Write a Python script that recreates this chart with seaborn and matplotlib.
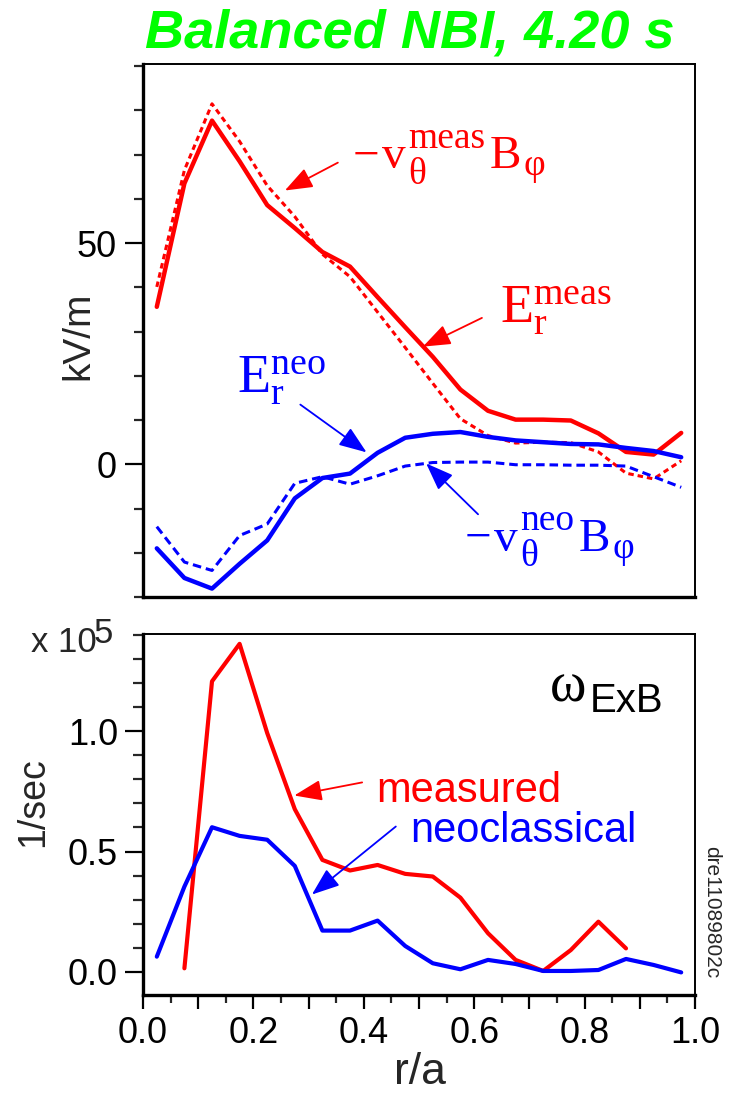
import matplotlib
matplotlib.use("Agg")
import matplotlib.pyplot as plt
import seaborn as sns
import numpy as np
import pandas as pd
from matplotlib.ticker import MultipleLocator, FuncFormatter

# ---------------- data ----------------
r_top = [0.025, 0.075, 0.125, 0.175, 0.225, 0.275, 0.325, 0.375, 0.425, 0.475,
         0.525, 0.575, 0.625, 0.675, 0.725, 0.775, 0.825, 0.875, 0.925, 0.975]
er_meas = [35.6, 63.5, 77.7, 68.5, 58.6, 53.4, 48.0, 44.7, 37.8, 31.0,
           24.3, 16.9, 12.1, 10.1, 10.1, 9.9, 7.0, 2.8, 2.2, 7.1]
vb_meas = [40.1, 66.5, 81.5, 73.0, 63.0, 56.0, 47.5, 42.4, 34.4, 26.4,
           18.3, 10.3, 6.5, 4.8, 5.0, 4.9, 2.8, -2.0, -3.3, 0.8]
er_neo = [-19.0, -25.7, -28.1, -22.5, -17.2, -7.7, -3.1, -2.1, 2.6, 6.0,
          6.9, 7.3, 6.2, 5.4, 5.0, 4.6, 4.5, 3.7, 3.0, 1.6]
vb_neo = [-14.1, -22.1, -24.0, -16.1, -13.5, -4.3, -2.8, -4.5, -2.6, -0.4,
          0.4, 0.5, 0.5, -0.1, -0.1, -0.2, -0.2, -0.4, -2.8, -5.2]

r_meas_w = [0.075, 0.125, 0.175, 0.225, 0.275, 0.325, 0.375, 0.425, 0.475,
            0.525, 0.575, 0.625, 0.675, 0.725, 0.775, 0.825, 0.875]
w_meas = [0.014, 1.208, 1.364, 0.993, 0.676, 0.465, 0.421, 0.444, 0.407,
          0.396, 0.308, 0.160, 0.049, 0.003, 0.090, 0.208, 0.097]
r_neo_w = r_top
w_neo = [0.0625, 0.354, 0.601, 0.565, 0.549, 0.440, 0.171, 0.171, 0.2125, 0.107,
         0.035, 0.010, 0.049, 0.032, 0.003, 0.003, 0.007, 0.053, 0.028, -0.003]

x_ticks = [0.0, 0.2, 0.4, 0.6, 0.8, 1.0]

RED = "#FF0000"
BLUE = "#0000FF"
GREEN = "#00FF00"

# ---------------- style ----------------
sns.set_theme(style="ticks")
plt.rcParams["font.family"] = ["Liberation Sans", "DejaVu Sans"]
plt.rcParams["mathtext.fontset"] = "custom"
plt.rcParams["mathtext.rm"] = "Liberation Serif"
plt.rcParams["mathtext.it"] = "Liberation Serif:italic"
plt.rcParams["mathtext.bf"] = "Liberation Serif:bold"

W, H = 732, 1097
fig = plt.figure(figsize=(W / 100, H / 100), dpi=100)
SERIF = ["Liberation Serif", "DejaVu Serif"]


def fx(px):
    return px / W


def fy(py):
    return 1 - py / H


L, R = 143, 695
ax1 = fig.add_axes([fx(L), fy(597), fx(R) - fx(L), fy(64) - fy(597)])
ax2 = fig.add_axes([fx(L), fy(995), fx(R) - fx(L), fy(634) - fy(995)])

# ---------------- top panel ----------------
sns.lineplot(x=r_top, y=vb_meas, ax=ax1, color=RED, lw=2.2)
ax1.lines[-1].set_dashes((1.8, 1.3))
sns.lineplot(x=r_top, y=er_meas, ax=ax1, color=RED, lw=3.2)
sns.lineplot(x=r_top, y=vb_neo, ax=ax1, color=BLUE, lw=2.2)
ax1.lines[-1].set_dashes((2.8, 1.6))
sns.lineplot(x=r_top, y=er_neo, ax=ax1, color=BLUE, lw=3.2)

ax1.set_xlim(0, 1)
ax1.set_ylim(-30, 90.5)
ax1.yaxis.set_major_locator(MultipleLocator(50))
ax1.yaxis.set_minor_locator(MultipleLocator(10))
ax1.yaxis.set_major_formatter(FuncFormatter(lambda v, p: f"{v:.0f}"))
ax1.tick_params(axis="x", bottom=False, labelbottom=False, which="both")
ax1.tick_params(axis="y", which="major", direction="out", length=13, width=1.6,
                labelsize=26, pad=6, colors="black")
ax1.tick_params(axis="y", which="minor", direction="out", length=6.5, width=1.6)
ax1.set_xlabel("")
ax1.set_ylabel("")

arrow_kw = dict(arrowstyle="-|>,head_length=0.85,head_width=0.32",
                mutation_scale=20, lw=1.3, shrinkA=0, shrinkB=0)

fig.canvas.draw()
renderer = fig.canvas.get_renderer()


def compose(ax, x, y, parts, color):
    """parts: (text, fontsize, dx_pt, dy_pt, advance)"""
    xoff = 0.0
    for txt, fs, dx, dy, adv in parts:
        t = ax.annotate(txt, xy=(x, y), xycoords="data",
                        xytext=(xoff + dx, dy), textcoords="offset points",
                        fontsize=fs, color=color, family=SERIF,
                        ha="left", va="baseline")
        if adv:
            w = t.get_window_extent(renderer).width * 72.0 / fig.dpi
            xoff += dx + w


def v_label(ax, x, y, sup, color):
    compose(ax, x, y, [
        ("\u2212", 34, 0, 0, True),
        ("v", 34, 2, 0, True),
        ("\u03b8", 27, 1.5, -11, False),
        (sup, 27, 1.5, 15, True),
        ("B", 34, 3.5, 0, True),
        ("\u03c6", 27, 1.5, -5, True),
    ], color)


# annotations top
v_label(ax1, 0.380, 66.9, "meas", RED)
ax1.annotate("", xy=(0.257, 61.9), xytext=(0.353, 68.2),
             arrowprops=dict(color=RED, **arrow_kw))
ax1.text(0.647, 32.0, r"$\mathrm{E_{r}^{meas}}$", color=RED,
         fontsize=39, ha="left", va="baseline")
ax1.annotate("", xy=(0.507, 26.6), xytext=(0.614, 33.1),
             arrowprops=dict(color=RED, **arrow_kw))
ax1.text(0.170, 16.2, r"$\mathrm{E_{r}^{neo}}$", color=BLUE,
         fontsize=39, ha="left", va="baseline")
ax1.annotate("", xy=(0.405, 2.7), xytext=(0.285, 13.5),
             arrowprops=dict(color=BLUE, **arrow_kw))
v_label(ax1, 0.583, -19.6, "neo", BLUE)
ax1.annotate("", xy=(0.513, 0.2), xytext=(0.607, -11.3),
             arrowprops=dict(color=BLUE, **arrow_kw))

# ---------------- bottom panel ----------------
sns.lineplot(x=r_meas_w, y=w_meas, ax=ax2, color=RED, lw=3.0)
sns.lineplot(x=r_neo_w, y=w_neo, ax=ax2, color=BLUE, lw=3.0)

ax2.set_xlim(0, 1)
ax2.set_ylim(-0.097, 1.405)
ax2.yaxis.set_major_locator(MultipleLocator(0.5))
ax2.yaxis.set_minor_locator(MultipleLocator(0.1))
ax2.yaxis.set_major_formatter(FuncFormatter(lambda v, p: f"{v:.1f}"))
ax2.xaxis.set_major_locator(MultipleLocator(0.1))
ax2.xaxis.set_minor_locator(MultipleLocator(0.05))


def xfmt(v, p):
    lab = f"{v:.1f}"
    return lab if any(abs(v - t) < 1e-6 for t in x_ticks) else ""


ax2.xaxis.set_major_formatter(FuncFormatter(xfmt))
ax2.tick_params(axis="y", which="major", direction="out", length=13, width=1.6,
                labelsize=26, pad=5, colors="black")
ax2.tick_params(axis="y", which="minor", direction="out", length=7, width=1.6)
ax2.tick_params(axis="x", which="major", direction="out", length=10, width=1.6,
                labelsize=26, pad=5, colors="black")
ax2.tick_params(axis="x", which="minor", direction="out", length=6, width=1.6)
ax2.set_xlabel("")
ax2.set_ylabel("")

ax2.text(0.737, 1.125, "\u03c9", fontsize=40, family=SERIF, ha="left",
         va="baseline", color="black")
ax2.text(0.810, 1.079, "ExB", fontsize=29, ha="left", va="baseline", color="black")
ax2.text(0.422, 0.704, "measured", fontsize=30, color=RED, ha="left", va="baseline")
ax2.text(0.484, 0.54, "neoclassical", fontsize=30, color=BLUE, ha="left",
         va="baseline")
ax2.annotate("", xy=(0.274, 0.733), xytext=(0.397, 0.7875),
             arrowprops=dict(color=RED, **arrow_kw))
ax2.annotate("", xy=(0.306, 0.321), xytext=(0.458, 0.604),
             arrowprops=dict(color=BLUE, **arrow_kw))

# spines
for ax in (ax1, ax2):
    for side in ("left", "bottom"):
        ax.spines[side].set_linewidth(2.4)
        ax.spines[side].set_color("black")
    for side in ("top", "right"):
        ax.spines[side].set_visible(True)
        ax.spines[side].set_linewidth(1.4)
        ax.spines[side].set_color("black")
    ax.set_facecolor("white")

# ---------------- figure texts ----------------
fig.text(fx(410), fy(48), "Balanced NBI, 4.20 s", color=GREEN, fontsize=39,
         fontweight="bold", fontstyle="italic", ha="center", va="baseline")
fig.text(fx(78), fy(336), "kV/m", rotation=90, fontsize=28, ha="center", va="center")
fig.text(fx(33), fy(802), "1/sec", rotation=90, fontsize=27, ha="center", va="center")
fig.text(fx(420), fy(1073), "r/a", fontsize=32, ha="center", va="center")
fig.text(fx(97), fy(652), "x 10", fontsize=25, ha="right", va="baseline")
fig.text(fx(94), fy(643), "5", fontsize=25, ha="left", va="baseline")
fig.text(fx(712), fy(912), "dre11089802c", rotation=-90, fontsize=15,
         ha="center", va="center")

fig.savefig("out.png", dpi=100, facecolor="white")
